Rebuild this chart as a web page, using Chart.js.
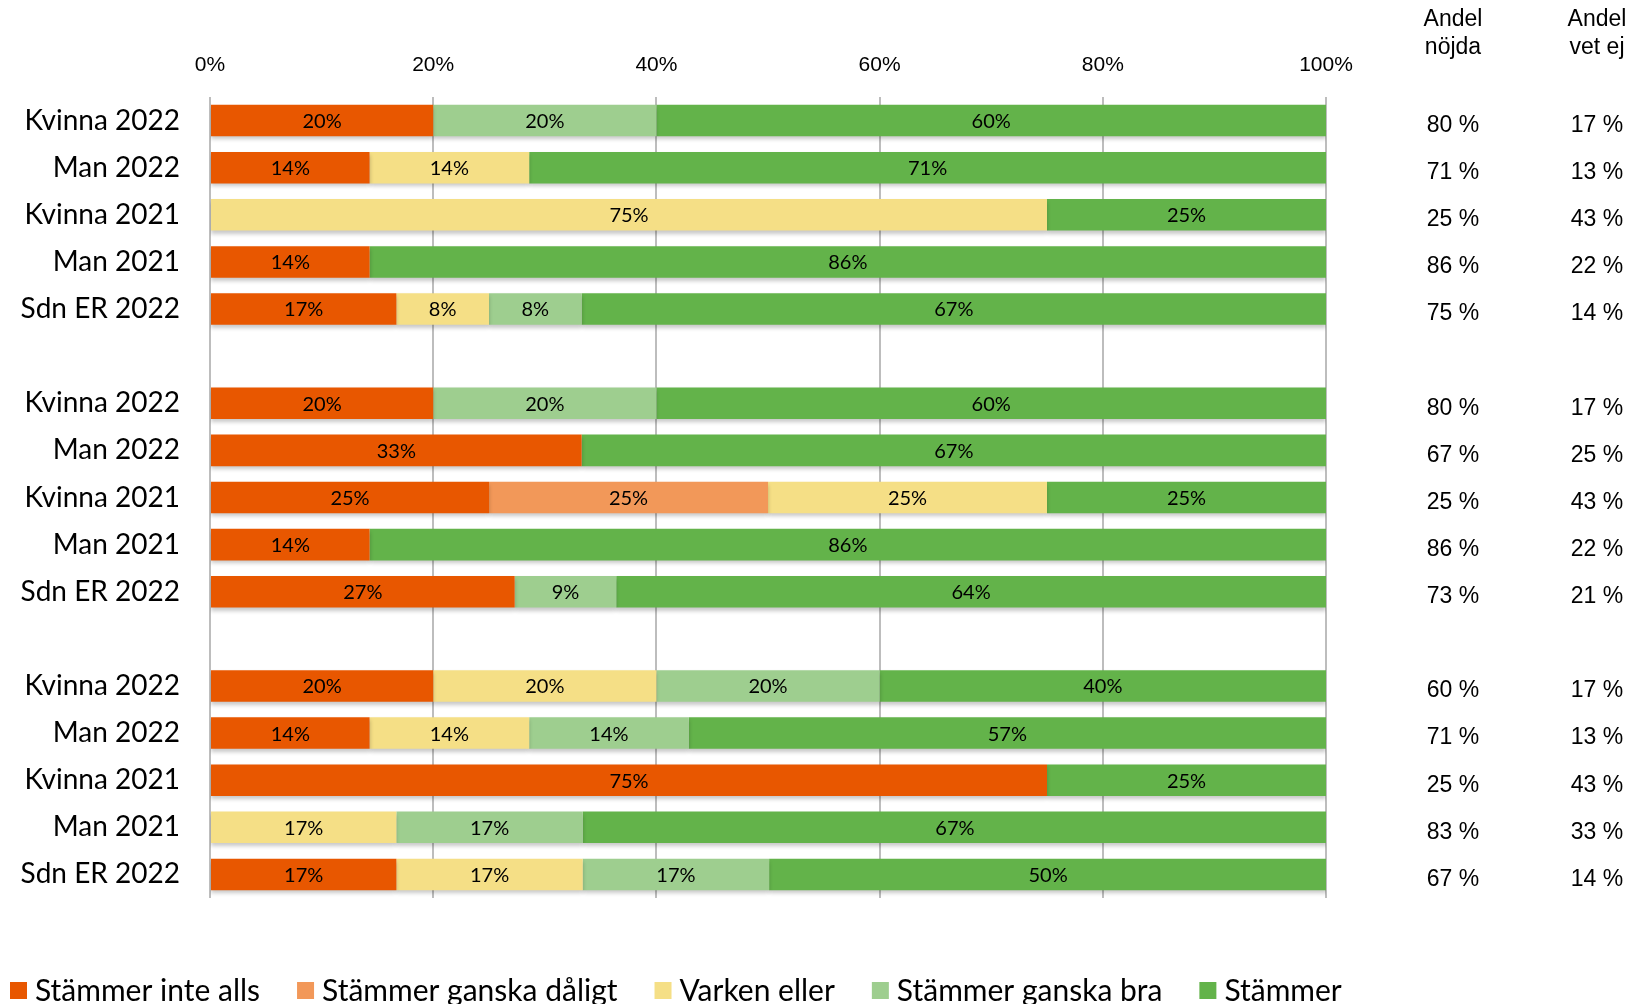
<!DOCTYPE html>
<html>
<head>
<meta charset="utf-8">
<script src="https://cdn.jsdelivr.net/npm/chart.js@4.4.1/dist/chart.umd.min.js"></script>
<style>
  body { margin: 0; background: #fff; }
  #wrap { width: 1642px; height: 1004px; position: relative; }
</style>
</head>
<body>
<div id="wrap"><canvas id="chart"></canvas></div>
<script>
// rader (tomma rader skiljer grupperna åt)
const categories = ['Kvinna 2022', 'Man 2022', 'Kvinna 2021', 'Man 2021', 'Sdn ER 2022', '',
                    'Kvinna 2022', 'Man 2022', 'Kvinna 2021', 'Man 2021', 'Sdn ER 2022', '',
                    'Kvinna 2022', 'Man 2022', 'Kvinna 2021', 'Man 2021', 'Sdn ER 2022'];

const seriesNames = ['Stämmer inte alls', 'Stämmer ganska dåligt', 'Varken eller', 'Stämmer ganska bra', 'Stämmer'];
const seriesColors = ['#E85700', '#F29859', '#F5DF86', '#9ECE8F', '#63B34A'];

const inteAlls     = [20, 14.3, 0, 14.3, 16.7, null, 20, 33.3, 25, 14.3, 27.3, null, 20, 14.3, 75, 0, 16.7];
const ganskaDaligt = [0, 0, 0, 0, 0, null, 0, 0, 25, 0, 0, null, 0, 0, 0, 0, 0];
const varkenEller  = [0, 14.3, 75, 0, 8.3, null, 0, 0, 25, 0, 0, null, 20, 14.3, 0, 16.7, 16.7];
const ganskaBra    = [20, 0, 0, 0, 8.3, null, 20, 0, 0, 0, 9.1, null, 20, 14.3, 0, 16.7, 16.7];
const stammer      = [60, 71.4, 25, 85.7, 66.7, null, 60, 66.7, 25, 85.7, 63.6, null, 40, 57.1, 25, 66.7, 50];

// kolumnerna till höger
const andelNojda = [80, 71, 25, 86, 75, null, 80, 67, 25, 86, 73, null, 60, 71, 25, 83, 67];
const andelVetEj = [17, 13, 43, 22, 14, null, 17, 25, 43, 22, 21, null, 17, 13, 43, 33, 14];

const xTicks = [0, 20, 40, 60, 80, 100];

const allSeries = [inteAlls, ganskaDaligt, varkenEller, ganskaBra, stammer];

const calibriLike = 'Lato, "Open Sans", sans-serif';
const arialLike = '"Liberation Sans", Arial, sans-serif';

// skugga under staplarna
const shadowPlugin = {
    id: 'barShadow',
    beforeDatasetsDraw(chart) {
        const ctx = chart.ctx;
        ctx.save();
        ctx.shadowColor = 'rgba(0,0,0,0.22)';
        ctx.shadowBlur = 4;
        ctx.shadowOffsetY = 3;
    },
    afterDatasetsDraw(chart) {
        chart.ctx.restore();
    }
};

// procenttal i staplarna
const barLabelPlugin = {
    id: 'barLabels',
    afterDatasetsDraw(chart) {
        const ctx = chart.ctx;
        ctx.save();
        ctx.font = '20px ' + calibriLike;
        ctx.fillStyle = '#000';
        ctx.textAlign = 'center';
        ctx.textBaseline = 'middle';
        chart.data.datasets.forEach((ds, i) => {
            const meta = chart.getDatasetMeta(i);
            meta.data.forEach((bar, j) => {
                const v = ds.data[j];
                if (!v) return;
                const cx = (bar.x + bar.base) / 2;
                ctx.fillText(Math.round(v) + '%', cx, bar.y + 1);
            });
        });
        ctx.restore();
    }
};

// Andel nöjda / Andel vet ej + egen legend
const sidePlugin = {
    id: 'sideColumns',
    afterDraw(chart) {
        const ctx = chart.ctx;
        const area = chart.chartArea;
        const yScale = chart.scales.y;
        const col1 = area.right + 127;
        const col2 = area.right + 271;
        ctx.save();
        ctx.fillStyle = '#000';
        ctx.textAlign = 'center';
        ctx.textBaseline = 'middle';
        ctx.font = '23px ' + arialLike;
        ctx.fillText('Andel', col1, 20);
        ctx.fillText('nöjda', col1, 48);
        ctx.fillText('Andel', col2, 20);
        ctx.fillText('vet ej', col2, 48);
        categories.forEach((c, i) => {
            if (andelNojda[i] == null) return;
            const y = yScale.getPixelForValue(i) + 5;
            ctx.fillText(andelNojda[i] + ' %', col1, y);
            ctx.fillText(andelVetEj[i] + ' %', col2, y);
        });

        // legend
        ctx.font = '30px ' + calibriLike;
        ctx.textAlign = 'left';
        let x = 10;
        const ly = 991;
        seriesNames.forEach((name, i) => {
            ctx.fillStyle = seriesColors[i];
            ctx.fillRect(x, ly - 9, 17, 17);
            ctx.fillStyle = '#000';
            ctx.fillText(name, x + 25, ly);
            x += 25 + ctx.measureText(name).width + 37;
        });
        ctx.restore();
    }
};

const ctx = document.getElementById('chart').getContext('2d');
new Chart(ctx, {
    type: 'bar',
    data: {
        labels: categories,
        datasets: seriesNames.map((name, i) => ({
            label: name,
            data: allSeries[i],
            backgroundColor: seriesColors[i],
            borderWidth: 0,
            barPercentage: 0.67,
            categoryPercentage: 1
        }))
    },
    options: {
        indexAxis: 'y',
        responsive: true,
        maintainAspectRatio: false,
        animation: false,
        layout: {
            padding: { left: 0, right: 316, top: 0, bottom: 106 }
        },
        plugins: {
            legend: { display: false },
            tooltip: { enabled: false }
        },
        scales: {
            x: {
                position: 'top',
                stacked: true,
                min: 0,
                max: 100,
                afterBuildTicks: (scale) => { scale.ticks = xTicks.map(v => ({ value: v })); },
                afterFit: (scale) => { scale.height = 97; },
                ticks: {
                    callback: (v) => v + '%',
                    font: { family: arialLike, size: 21 },
                    color: '#000',
                    padding: 19,
                    maxRotation: 0
                },
                grid: { color: '#bdbdbd', lineWidth: 2, drawTicks: false },
                border: { display: false }
            },
            y: {
                stacked: true,
                afterFit: (scale) => { scale.width = 210; },
                ticks: {
                    font: { family: calibriLike, size: 28 },
                    color: '#000',
                    padding: 30,
                    autoSkip: false
                },
                grid: { display: false, drawTicks: false },
                border: { display: false }
            }
        }
    },
    plugins: [shadowPlugin, barLabelPlugin, sidePlugin]
});
</script>
</body>
</html>
